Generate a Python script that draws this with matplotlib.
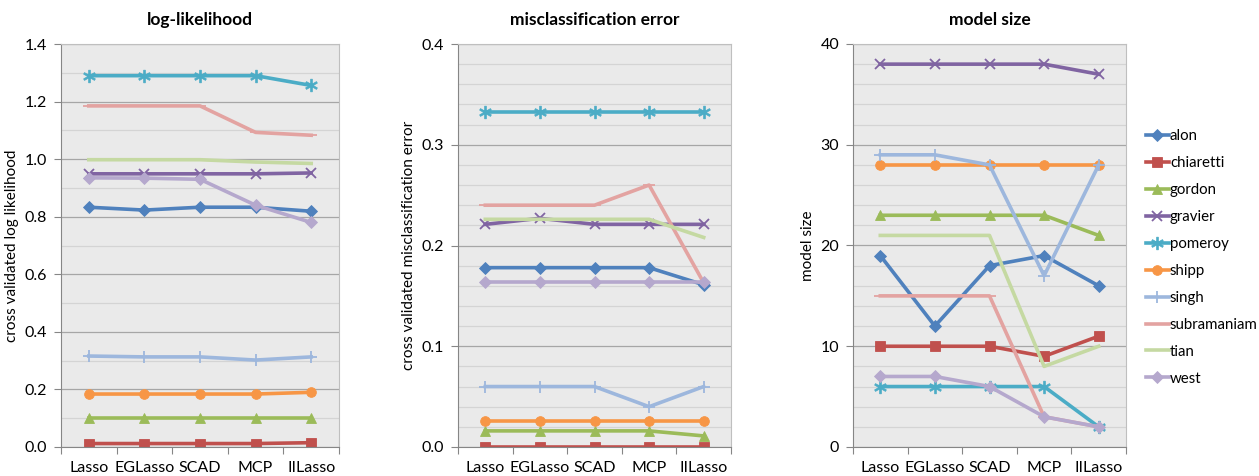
import numpy as np
import matplotlib.pyplot as plt
from matplotlib.ticker import MultipleLocator

plt.rcParams['font.family'] = ['Lato', 'DejaVu Sans']

methods = ['Lasso', 'EGLasso', 'SCAD', 'MCP', 'IILasso']
datasets = ['alon', 'chiaretti', 'gordon', 'gravier', 'pomeroy',
            'shipp', 'singh', 'subramaniam', 'tian', 'west']

# cross validated log likelihood
loglik = {
    'alon':        [0.833, 0.823, 0.833, 0.833, 0.819],
    'chiaretti':   [0.012, 0.012, 0.012, 0.012, 0.015],
    'gordon':      [0.102, 0.102, 0.102, 0.102, 0.102],
    'gravier':     [0.949, 0.949, 0.949, 0.949, 0.952],
    'pomeroy':     [1.290, 1.290, 1.290, 1.290, 1.256],
    'shipp':       [0.184, 0.184, 0.184, 0.184, 0.190],
    'singh':       [0.316, 0.313, 0.313, 0.302, 0.313],
    'subramaniam': [1.185, 1.185, 1.185, 1.093, 1.083],
    'tian':        [0.998, 0.998, 0.998, 0.990, 0.985],
    'west':        [0.935, 0.934, 0.930, 0.840, 0.780],
}

# cross validated misclassification error
miscls = {
    'alon':        [0.178, 0.178, 0.178, 0.178, 0.161],
    'chiaretti':   [0.0, 0.0, 0.0, 0.0, 0.0],
    'gordon':      [0.016, 0.016, 0.016, 0.016, 0.011],
    'gravier':     [0.221, 0.227, 0.221, 0.221, 0.221],
    'pomeroy':     [0.333, 0.333, 0.333, 0.333, 0.333],
    'shipp':       [0.026, 0.026, 0.026, 0.026, 0.026],
    'singh':       [0.060, 0.060, 0.060, 0.040, 0.060],
    'subramaniam': [0.240, 0.240, 0.240, 0.260, 0.163],
    'tian':        [0.226, 0.226, 0.226, 0.226, 0.208],
    'west':        [0.164, 0.164, 0.164, 0.164, 0.164],
}

# model size
msize = {
    'alon':        [19, 12, 18, 19, 16],
    'chiaretti':   [10, 10, 10, 9, 11],
    'gordon':      [23, 23, 23, 23, 21],
    'gravier':     [38, 38, 38, 38, 37],
    'pomeroy':     [6, 6, 6, 6, 2],
    'shipp':       [28, 28, 28, 28, 28],
    'singh':       [29, 29, 28, 17, 28],
    'subramaniam': [15, 15, 15, 3, 2],
    'tian':        [21, 21, 21, 8, 10],
    'west':        [7, 7, 6, 3, 2],
}

colors = {
    'alon': '#4F81BD', 'chiaretti': '#C0504D', 'gordon': '#9BBB59',
    'gravier': '#8064A2', 'pomeroy': '#4BACC6', 'shipp': '#F79646',
    'singh': '#9DB7DD', 'subramaniam': '#E3A3A1', 'tian': '#C5D9A2',
    'west': '#B5A8CD',
}
markers = {
    'alon': ('D', 6), 'chiaretti': ('s', 7), 'gordon': ('^', 7),
    'gravier': ('x', 7), 'pomeroy': ('$\u2217$', 9), 'shipp': ('o', 7),
    'singh': ('+', 8), 'subramaniam': ('_', 8), 'tian': ('', 0),
    'west': ('D', 6),
}

panels = [
    ('log-likelihood', 'cross validated log likelihood', loglik,
     1.4, 0.2, 0.1, '{:.1f}'),
    ('misclassification error', 'cross validated misclassification error',
     miscls, 0.4, 0.1, 0.02, '{:.1f}'),
    ('model size', 'model size', msize, 40, 10, 2, '{:.0f}'),
]

fig = plt.figure(figsize=(12.59, 4.76), dpi=100)
lefts = [61, 458, 853]
rights = [339, 731, 1126]
bottom, top = 447, 44
W, H = 1259, 476

x = np.arange(len(methods)) + 0.5
handles = []
for i, (title, ylabel, data, ymax, major, minor, fmt) in enumerate(panels):
    ax = fig.add_axes([lefts[i] / W, 1 - bottom / H,
                       (rights[i] - lefts[i]) / W, (bottom - top) / H])
    ax.set_facecolor('#EAEAEA')
    ax.set_xlim(0, len(methods))
    ax.set_ylim(0, ymax)
    ax.yaxis.set_minor_locator(MultipleLocator(minor))
    ax.grid(which='minor', axis='y', color='#D4D4D4', linewidth=0.9)
    ax.grid(which='major', axis='y', color='#A6A6A6', linewidth=0.9)
    ax.set_axisbelow(True)
    yt = np.arange(0, ymax + major / 2, major)
    ax.set_yticks(yt)
    ax.set_yticklabels([fmt.format(v) for v in yt])
    ax.set_xticks(np.arange(len(methods) + 1))
    ax.set_xticklabels([])
    ax.set_xticks(x, minor=True)
    ax.set_xticklabels(methods, minor=True)
    ax.tick_params(axis='x', which='major', length=5, color='#868686')
    ax.tick_params(axis='x', which='minor', length=0, pad=10, labelsize=11.5)
    ax.tick_params(axis='y', which='major', length=5, color='#868686',
                   labelsize=11.5, pad=5)
    ax.tick_params(axis='y', which='minor', length=0)
    for s in ['left', 'bottom']:
        ax.spines[s].set_color('#868686')
    for s in ['top', 'right']:
        ax.spines[s].set_color('#BFBFBF')
    ax.set_title(title, fontsize=12.5, fontweight='bold', pad=14)
    ax.set_ylabel(ylabel, fontsize=11, labelpad=4)
    for name in datasets:
        m, ms = markers[name]
        h, = ax.plot(x, data[name], color=colors[name], linewidth=2.6,
                     marker=m if m else None, markersize=ms,
                     markeredgewidth=1.3 if m in ('x', '+', '_') else 0.6,
                     markeredgecolor=colors[name], label=name,
                     solid_joinstyle='round')
        if i == 0:
            handles.append(h)

fig.legend(handles=handles, loc='center left', bbox_to_anchor=(1140 / W, 0.459),
           frameon=False, fontsize=10.8, handlelength=1.5, handletextpad=0.1,
           labelspacing=0.86, borderaxespad=0)

fig.savefig('out.png', dpi=100)
